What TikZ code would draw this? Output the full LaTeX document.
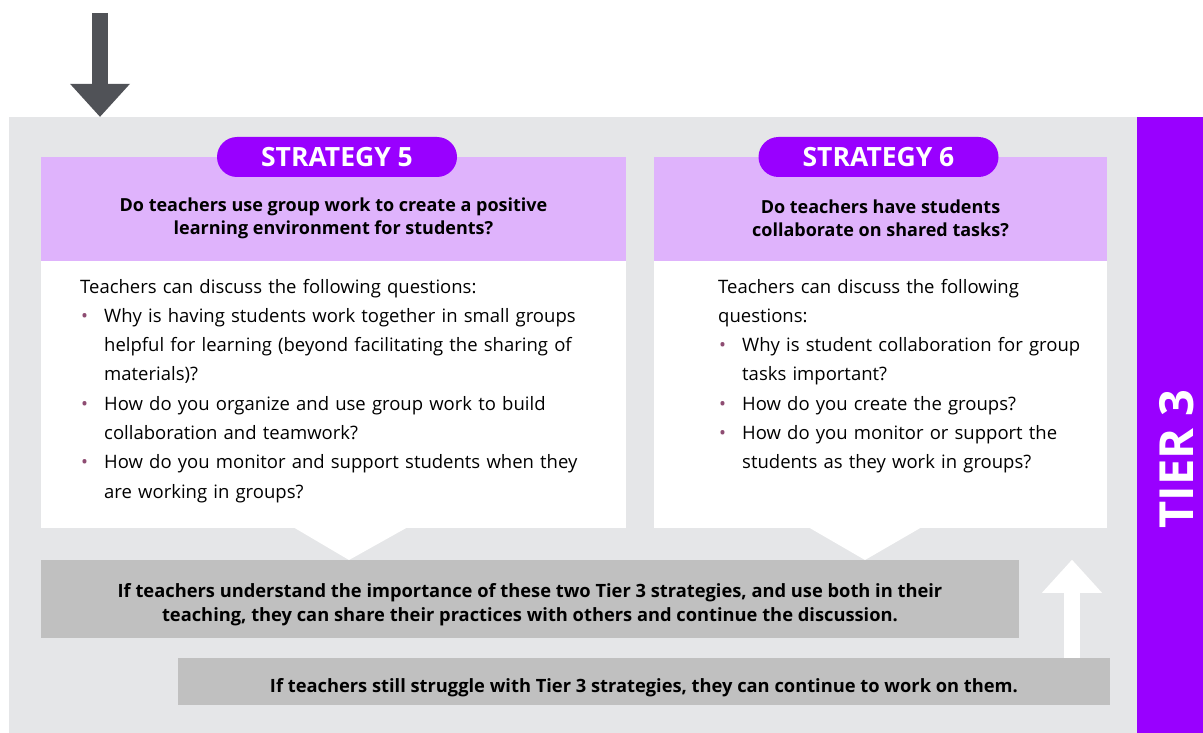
\documentclass[tikz,border=0pt]{standalone}
\usepackage{fontspec}
\setmainfont{Open Sans}
\usetikzlibrary{arrows.meta,positioning}
\definecolor{tierColor}{HTML}{9900FF}
\definecolor{headColor}{HTML}{DFB3FC}
\definecolor{backColor}{HTML}{E5E6E8}
\definecolor{noteColor}{HTML}{C0C0C0}
\definecolor{dropColor}{HTML}{505257}
\definecolor{dotColor}{HTML}{8E4C72}
\tikzset{
	pill/.style={fill=tierColor, rounded corners=20pt, minimum width=240pt, minimum height=40pt,
		inner sep=0, text=white, font=\fontsize{26.5}{26.5}\selectfont\bfseries},
	head/.style={fill=headColor, minimum height=104pt, inner sep=0},
	card/.style={fill=white, minimum height=267pt, inner sep=0},
	note/.style={fill=noteColor, inner sep=0},
	note text/.style={align=center, inner sep=0, font=\fontsize{18.3}{24}\selectfont\bfseries},
	question/.style={align=center, inner sep=0, font=\fontsize{18}{23}\selectfont\bfseries},
	body/.style={align=left, inner sep=0, font=\fontsize{18.5}{29.3}\selectfont},
	fat arrow/.style={line width=16pt, -{Triangle[length=33pt,width=60pt,line width=0pt]}}
}
\newcommand{\qitem}{\par\hangindent=24pt\hangafter=1\noindent\makebox[24pt][l]{\hspace{1pt}\textcolor{dotColor}{\textbullet}}}

\begin{document}
\begin{tikzpicture}[x=1pt, y=-1pt]
\useasboundingbox (0,0) rectangle (1203,733);
\node[fill=backColor, minimum width=1128pt, minimum height=616pt, inner sep=0] (back) at (573,425) {};
\node[fill=tierColor, minimum width=66pt, minimum height=616pt, inner sep=0] (tier) at (1170,425) {};
\node[rotate=90, inner sep=0, text=white, font=\fontsize{47}{47}\selectfont\bfseries] (tierlabel) at (1176.5,459) {TIER 3};

\coordinate (drop) at (100,13);
\draw[fat arrow, dropColor] (drop) -- (drop |- back.north);

% strategy 5
\node[head, minimum width=585pt] (h5) at (333.5,209) {};
\node[card, minimum width=585pt, below=0pt of h5] (c5) {};
\fill[white] (293,527) -- (408,527) -- (349,560) -- cycle;
\node[pill] (s5) at (337,157) {STRATEGY 5};
\node[question] (q5) at (333.5,218.5) {Do teachers use group work to create a positive\\ learning environment for students?};
\node[body, text width=530pt, anchor=base west] (b5) at (80,293) {Teachers can discuss the following questions:
\qitem Why is having students work together in small groups\newline helpful for learning (beyond facilitating the sharing of\newline materials)?
\qitem How do you organize and use group work to build\newline collaboration and teamwork?
\qitem How do you monitor and support students when they\newline are working in groups?\par};

% strategy 6
\node[head, minimum width=453pt] (h6) at (880.5,209) {};
\node[card, minimum width=453pt, below=0pt of h6] (c6) {};
\fill[white] (808,527) -- (922,527) -- (865,560) -- cycle;
\node[pill] (s6) at (878.5,157) {STRATEGY 6};
\node[question] (q6) at (880.5,218.5) {Do teachers have students\\ collaborate on shared tasks?};
\node[body, text width=385pt, anchor=base west] (b6) at (718,293) {Teachers can discuss the following\newline questions:
\qitem Why is student collaboration for group\newline tasks important?
\qitem How do you create the groups?
\qitem How do you monitor or support the\newline students as they work in groups?\par};

% outcomes
\node[note, minimum width=978pt, minimum height=78pt] (n1) at (530,599) {};
\node[note text] (n1text) at (530,605) {If teachers understand the importance of these two Tier 3 strategies, and use both in their\\ teaching, they can share their practices with others and continue the discussion.};
\node[note, minimum width=932pt, minimum height=47pt] (n2) at (644,681.5) {};
\node[note text] (n2text) at (644,688) {If teachers still struggle with Tier 3 strategies, they can continue to work on them.};

\coordinate (rise) at (1072,0);
\draw[fat arrow, white] (n2.north -| rise) -- (n1.north -| rise);
\end{tikzpicture}
\end{document}
